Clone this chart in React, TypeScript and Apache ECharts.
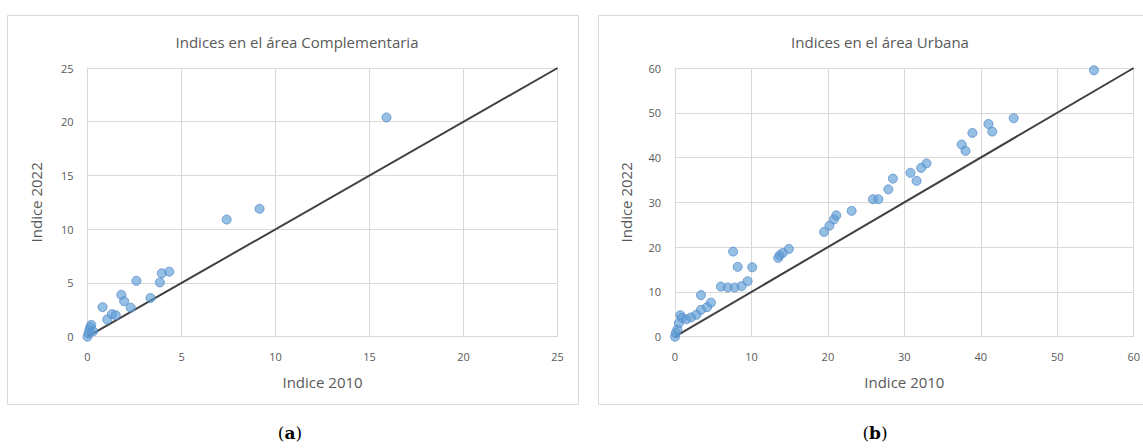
import React, { useEffect, useRef } from "react";
import * as echarts from "echarts";

// Chart (a): Complementaria — [Indice 2010, Indice 2022]
const complementaria: number[][] = [
  [0, 0], [0.05, 0.3], [0.1, 0.6], [0.15, 0.9], [0.2, 1.1], [0.3, 0.5],
  [0.8, 2.75], [1.05, 1.6], [1.3, 2.1], [1.5, 2.0], [1.8, 3.9], [1.95, 3.3],
  [2.3, 2.7], [2.6, 5.2], [3.35, 3.6], [3.85, 5.05], [3.95, 5.9], [4.35, 6.05],
  [7.4, 10.9], [9.15, 11.9], [15.9, 20.4],
];

// Chart (b): Urbana — [Indice 2010, Indice 2022]
const urbana: number[][] = [
  [0, 0], [0.1, 0.8], [0.3, 1.6], [0.5, 3.0], [0.7, 4.8], [0.9, 4.2],
  [1.5, 3.9], [2.1, 4.3], [2.8, 4.9], [3.4, 6.0], [4.2, 6.6], [4.7, 7.6],
  [3.4, 9.3], [6.0, 11.2], [6.9, 11.0], [7.8, 11.0], [8.7, 11.3], [9.5, 12.4],
  [7.6, 19.0], [8.2, 15.6], [10.1, 15.5], [13.5, 17.6], [13.7, 18.2], [14.1, 18.7],
  [14.9, 19.6], [19.5, 23.4], [20.2, 24.8], [20.8, 26.2], [21.1, 27.1], [23.1, 28.1],
  [25.9, 30.7], [26.6, 30.7], [27.9, 32.9], [28.5, 35.3], [30.8, 36.6], [31.6, 34.8],
  [32.2, 37.7], [32.9, 38.7], [37.5, 42.9], [38.0, 41.5], [38.9, 45.5], [41.0, 47.5],
  [41.5, 45.8], [44.3, 48.8], [54.8, 59.5],
];

// 1:1 reference lines
const refLineA: number[][] = [[0, 0], [25, 25]];
const refLineB: number[][] = [[0, 0], [60, 60]];

const titleA = "Indices en el área Complementaria";
const titleB = "Indices en el área Urbana";
const xName = "Indice 2010";
const yName = "Indice 2022";
const captionA = "a";
const captionB = "b";

const FONT = "'Open Sans', 'Noto Sans', sans-serif";
const GRID_COLOR = "#d9d9d9";
const LABEL_COLOR = "#595959";

export default function App() {
  const ref = useRef<HTMLDivElement>(null);
  useEffect(() => {
    if (!ref.current) return;
    const chart = echarts.init(ref.current, null, { renderer: "svg" });

    const axisCommon = (max: number, interval: number) => ({
      type: "value" as const,
      min: 0,
      max,
      interval,
      axisLine: { show: true, lineStyle: { color: GRID_COLOR, width: 1 } },
      axisTick: { show: false },
      splitLine: { show: true, lineStyle: { color: GRID_COLOR, width: 1 } },
      axisLabel: { color: LABEL_COLOR, fontSize: 11, fontFamily: FONT, margin: 14 },
      nameLocation: "middle" as const,
      nameTextStyle: { color: LABEL_COLOR, fontSize: 15, fontFamily: FONT },
    });

    const scatterStyle = {
      type: "scatter" as const,
      symbolSize: 9,
      itemStyle: { color: "rgba(91,155,213,0.8)", borderColor: "#5a8fcc", borderWidth: 1 },
      z: 3,
    };
    const lineStyle = {
      type: "line" as const,
      showSymbol: false,
      symbol: "none",
      lineStyle: { color: "#404040", width: 2 },
      z: 2,
    };
    const titleStyle = { color: LABEL_COLOR, fontSize: 15, fontWeight: "normal" as const, fontFamily: FONT };
    const captionStyle = (c: string) => ({
      text: "(" + "{b|" + c + "})", fill: "#000", fontSize: 17, fontFamily: "'DejaVu Serif', serif",
      align: "center", verticalAlign: "middle",
      rich: { b: { fontWeight: "bold", fontSize: 17, fontFamily: "'DejaVu Serif', serif" } },
    });

    chart.setOption({
      animation: false,
      backgroundColor: "#ffffff",
      title: [
        { text: titleA, left: 292, top: 29, textAlign: "center", textStyle: titleStyle },
        { text: titleB, left: 875, top: 29, textAlign: "center", textStyle: titleStyle },
      ],
      graphic: [
        { type: "rect", shape: { x: 7.5, y: 15.5, width: 571, height: 389 }, style: { fill: "none", stroke: GRID_COLOR, lineWidth: 1 }, z: -1 },
        { type: "rect", shape: { x: 598.5, y: 15.5, width: 560, height: 389 }, style: { fill: "none", stroke: GRID_COLOR, lineWidth: 1 }, z: -1 },
        { type: "text", x: 290, y: 433, style: captionStyle(captionA) },
        { type: "text", x: 875, y: 433, style: captionStyle(captionB) },
      ],
      grid: [
        { left: 87.5, right: 1143 - 557.6, top: 68, bottom: 448 - 336.7 },
        { left: 675, right: 1143 - 1134.5, top: 68, bottom: 448 - 336.7 },
      ],
      xAxis: [
        { ...axisCommon(25, 5), gridIndex: 0, name: xName, nameGap: 38 },
        { ...axisCommon(60, 10), gridIndex: 1, name: xName, nameGap: 38 },
      ],
      yAxis: [
        { ...axisCommon(25, 5), gridIndex: 0, name: yName, nameGap: 44 },
        { ...axisCommon(60, 10), gridIndex: 1, name: yName, nameGap: 42 },
      ],
      series: [
        { ...lineStyle, xAxisIndex: 0, yAxisIndex: 0, data: refLineA },
        { ...scatterStyle, xAxisIndex: 0, yAxisIndex: 0, data: complementaria },
        { ...lineStyle, xAxisIndex: 1, yAxisIndex: 1, data: refLineB },
        { ...scatterStyle, xAxisIndex: 1, yAxisIndex: 1, data: urbana },
      ],
    });
    return () => chart.dispose();
  }, []);
  return <div ref={ref} style={{ position: "fixed", left: 0, top: 0, width: 1143, height: 448 }} />;
}
